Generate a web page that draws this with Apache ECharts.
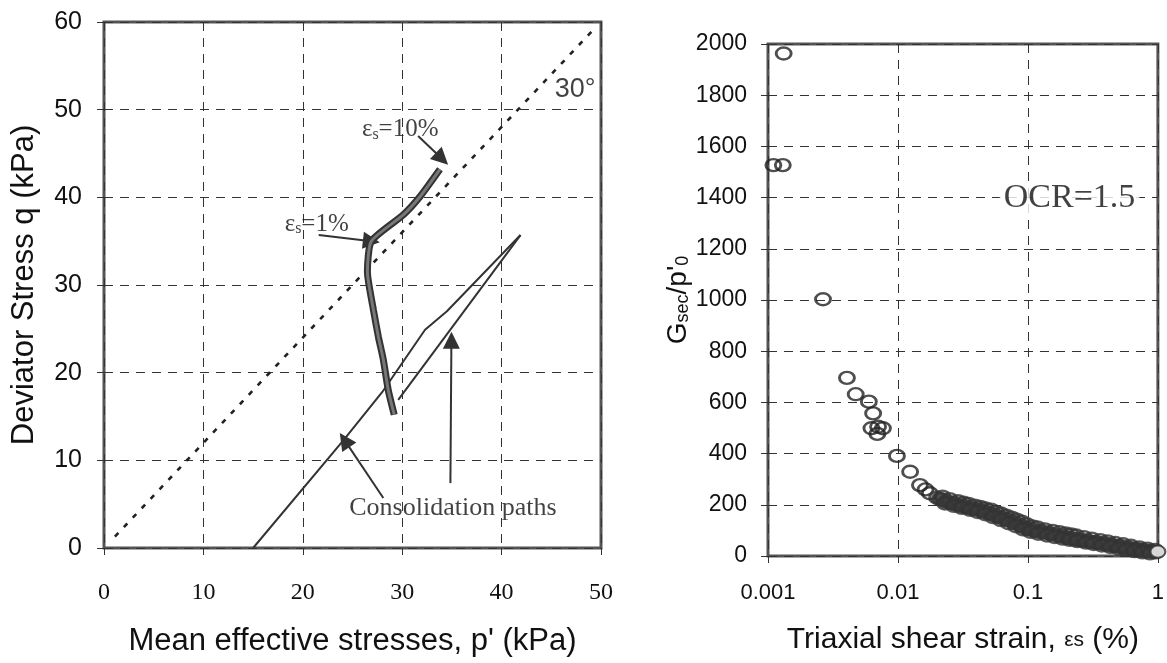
<!DOCTYPE html>
<html><head><meta charset="utf-8">
<script src="https://cdn.jsdelivr.net/npm/echarts@6/dist/echarts.min.js"></script>
<style>html,body{margin:0;padding:0;background:#fff}#c{width:1167px;height:663px}</style>
</head><body><div id="c"></div>
<script>
// ---------- Left panel: q - p' stress paths ----------
const leftXTicks = [0, 10, 20, 30, 40, 50];
const leftYTicks = [0, 10, 20, 30, 40, 50, 60];
const envelope30 = [[1.1, 1.3], [49.3, 59.2]];
const shearPath = [[29.2, 15.2], [28.6, 18.0], [28.1, 21.5], [27.6, 24.1], [27.1, 27.2], [26.5, 31.5], [26.9, 35.0], [30.1, 38.0], [31.8, 40.1], [33.8, 43.2]];
const consolidationPath1 = [[15.0, 0], [24.1, 12.3], [28.0, 17.8], [32.3, 24.9], [34.5, 27.0], [41.9, 35.7]];
const consolidationPath2 = [[29.6, 16.9], [41.9, 35.7]];
const leftArrows = [
  [[31.6, 47.0], [34.0, 44.4]],
  [[21.6, 35.7], [26.9, 35.0]],
  [[28.1, 5.7], [24.2, 12.3]],
  [[34.85, 7.4], [34.95, 23.7]]
];
const leftLabels = [
  {pos: [47.4, 52.3], text: '30°'},
  {pos: [29.8, 47.7], text: '{a|ε}{b|s}{a|=10%}'},
  {pos: [21.4, 36.9], text: '{a|ε}{b|s}{a|=1%}'},
  {pos: [35.1, 4.6], text: '{c|Consolidation paths}'}
];

// ---------- Right panel: Gsec/p'0 vs shear strain ----------
const rightXTickLabels = ['0.001', '0.01', '0.1', '1'];
const rightYTicks = [0, 200, 400, 600, 800, 1000, 1200, 1400, 1600, 1800, 2000];
const strainSmall = [0.00132, 0.0011, 0.0013, 0.00265, 0.00405, 0.00473, 0.00597, 0.00644, 0.00625, 0.00694, 0.00766, 0.00703, 0.00982, 0.0124, 0.01476, 0.0163, 0.0176];
const gsecSmall   = [1963, 1527, 1527, 1003, 696, 632, 603, 557, 499, 477, 499, 505, 391, 329, 277, 260, 245];
// dense band of overlapping measurements (centre line)
const strainBand = [0.020, 0.021, 0.022, 0.023, 0.024, 0.025, 0.026, 0.027, 0.028, 0.030, 0.031, 0.033, 0.034, 0.036, 0.038, 0.040, 0.042, 0.044, 0.046, 0.048, 0.050, 0.053, 0.055, 0.058, 0.061, 0.064, 0.067, 0.070, 0.073, 0.077, 0.080, 0.084, 0.088, 0.093, 0.097, 0.100, 0.105, 0.110, 0.115, 0.120, 0.125, 0.130, 0.140, 0.145, 0.150, 0.160, 0.170, 0.180, 0.190, 0.200, 0.210, 0.220, 0.230, 0.240, 0.250, 0.260, 0.280, 0.290, 0.300, 0.320, 0.330, 0.350, 0.370, 0.390, 0.400, 0.420, 0.440, 0.460, 0.490, 0.510, 0.530, 0.560, 0.580, 0.610, 0.640, 0.670, 0.700, 0.740, 0.770, 0.810, 0.850, 0.890, 0.930, 0.970];
const gsecBand   = [228, 222, 220, 214, 212, 209, 206, 205, 201, 199, 195, 193, 190, 188, 185, 183, 180, 176, 174, 170, 168, 163, 160, 156, 152, 148, 145, 140, 137, 133, 128, 124, 120, 114, 110, 106, 104, 101, 99, 96, 95, 93, 90, 89, 86, 83, 80, 78, 75, 72, 70, 68, 66, 64, 63, 61, 59, 58, 56, 54, 53, 51, 49, 47, 46, 44, 42, 40, 38, 37, 35, 33, 32, 30, 29, 27, 26, 24, 22, 20, 19, 17, 16, 14];
// upper and lower scatter of the same band
const strainBandUpper = [0.022, 0.025, 0.029, 0.032, 0.035, 0.039, 0.043, 0.047, 0.052, 0.057, 0.062, 0.068, 0.075, 0.082, 0.090, 0.098, 0.108, 0.118, 0.135, 0.155, 0.175, 0.195, 0.215, 0.235, 0.27, 0.31, 0.36, 0.41, 0.47, 0.54, 0.62, 0.72, 0.83, 0.95];
const gsecBandUpper   = [232, 222, 214, 208, 203, 197, 192, 186, 181, 172, 166, 158, 150, 142, 134, 124, 116, 112, 104, 98, 93, 88, 84, 80, 74, 68, 62, 57, 51, 46, 40, 34, 29, 24];
const strainBandLower = [0.023, 0.027, 0.031, 0.036, 0.041, 0.047, 0.054, 0.062, 0.071, 0.081, 0.092, 0.105, 0.12, 0.14, 0.16, 0.185, 0.21, 0.24, 0.28, 0.32, 0.37, 0.43, 0.5, 0.57, 0.66, 0.76, 0.87];
const gsecBandLower   = [205, 196, 188, 180, 172, 163, 152, 140, 128, 116, 104, 94, 87, 80, 74, 68, 63, 58, 52, 47, 41, 35, 29, 24, 19, 14, 10];
const lastPoint = [[1.0, 17]];
const ocrLabel = {pos: [0.209, 1398], text: 'OCR=1.5'};

const SANS = 'Liberation Sans, Arial, sans-serif';
const SERIF = 'Liberation Serif, Times New Roman, serif';
const gridDash = {type: [9, 7], color: '#333', width: 1};
const tick = {show: true, length: 7, lineStyle: {color: '#333', width: 1}};

const zip = (a, b) => a.map((v, i) => [v, b[i]]);
const ring = {color: 'rgba(255,255,255,0)', borderColor: '#222', borderWidth: 2.6};
const bandRing = {color: 'rgba(70,70,70,0.35)', borderColor: '#333', borderWidth: 2.6};

const chart = echarts.init(document.getElementById('c'), null, {renderer: 'canvas'});
chart.setOption({
  animation: false,
  backgroundColor: '#fff',
  grid: [
    {left: 104, top: 22, width: 497, height: 526, show: true, borderColor: '#555', borderWidth: 3},
    {left: 768, top: 44, width: 397, height: 512, show: true, borderColor: '#555', borderWidth: 3}
  ],
  xAxis: [
    {gridIndex: 0, type: 'value', min: leftXTicks[0], max: leftXTicks[leftXTicks.length - 1], interval: 10,
     axisLine: {show: false}, axisTick: tick,
     axisLabel: {margin: 33, fontFamily: SERIF, fontSize: 24, color: '#111'},
     splitLine: {show: true, lineStyle: gridDash},
     name: "Mean effective stresses, p' (kPa)", nameLocation: 'middle', nameGap: 78,
     nameTextStyle: {fontFamily: SANS, fontSize: 31, color: '#111'}},
    {gridIndex: 1, type: 'log', logBase: 10, min: 0.001, max: 1,
     axisLine: {show: false}, axisTick: tick, minorTick: {show: false},
     axisLabel: {margin: 26, fontFamily: SANS, fontSize: 22, color: '#111',
       formatter: v => rightXTickLabels[Math.round(Math.log10(v)) + 3]},
     splitLine: {show: true, lineStyle: gridDash},
     name: 'Triaxial shear strain, {e|εs} (%)', nameLocation: 'middle', nameGap: 69,
     nameTextStyle: {fontFamily: SANS, fontSize: 30, color: '#111',
       rich: {e: {fontFamily: SANS, fontSize: 21, color: '#111'}}}}
  ],
  yAxis: [
    {gridIndex: 0, type: 'value', min: leftYTicks[0], max: leftYTicks[leftYTicks.length - 1], interval: 10,
     axisLine: {show: false}, axisTick: tick,
     axisLabel: {margin: 22, fontFamily: SANS, fontSize: 25, color: '#111'},
     splitLine: {show: true, lineStyle: gridDash},
     name: 'Deviator Stress q (kPa)', nameLocation: 'middle', nameGap: 64, nameRotate: 90,
     nameTextStyle: {fontFamily: SANS, fontSize: 31, color: '#111'}},
    {gridIndex: 1, type: 'value', min: rightYTicks[0], max: rightYTicks[rightYTicks.length - 1], interval: 200,
     axisLine: {show: false}, axisTick: tick,
     axisLabel: {margin: 21, fontFamily: SANS, fontSize: 23, color: '#111', formatter: v => String(v)},
     splitLine: {show: true, lineStyle: gridDash},
     name: "{m|G}{s|sec}{m|/p'}{s|0}", nameLocation: 'middle', nameGap: 50, nameRotate: 90,
     nameTextStyle: {fontFamily: SANS, fontSize: 28, color: '#111',
       rich: {m: {fontFamily: SANS, fontSize: 28, color: '#111'},
              s: {fontFamily: SANS, fontSize: 18, color: '#111', verticalAlign: 'bottom'}}}}
  ],
  series: [
    {type: 'line', xAxisIndex: 0, yAxisIndex: 0, data: envelope30, showSymbol: false, silent: true,
     lineStyle: {color: '#222', width: 2.6, type: [5, 8]}},
    {type: 'line', xAxisIndex: 0, yAxisIndex: 0, data: consolidationPath1, showSymbol: false, silent: true,
     lineStyle: {color: '#333', width: 2}},
    {type: 'line', xAxisIndex: 0, yAxisIndex: 0, data: consolidationPath2, showSymbol: false, silent: true,
     lineStyle: {color: '#333', width: 2}},
    {type: 'line', xAxisIndex: 0, yAxisIndex: 0, data: shearPath, showSymbol: false, silent: true, smooth: 0.2,
     lineStyle: {color: '#333', width: 7}},
    {type: 'line', xAxisIndex: 0, yAxisIndex: 0, data: shearPath, showSymbol: false, silent: true, smooth: 0.2,
     lineStyle: {color: '#777', width: 3}},
    {type: 'lines', coordinateSystem: 'cartesian2d', xAxisIndex: 0, yAxisIndex: 0, silent: true,
     symbol: ['none', 'triangle'], symbolSize: 17,
     lineStyle: {color: '#333', width: 2, opacity: 1},
     data: leftArrows.map(c => ({coords: c}))},
    {type: 'scatter', xAxisIndex: 0, yAxisIndex: 0, symbolSize: 0, silent: true,
     data: leftLabels.map(l => ({value: l.pos, label: {formatter: l.text}})),
     label: {show: true, position: 'inside', color: '#111', fontFamily: SANS, fontSize: 27,
       rich: {a: {fontFamily: SERIF, fontSize: 25, color: '#111'},
              b: {fontFamily: SERIF, fontSize: 16, color: '#111', verticalAlign: 'bottom'},
              c: {fontFamily: SERIF, fontSize: 26, color: '#111'}}}},
    {type: 'scatter', xAxisIndex: 1, yAxisIndex: 1, data: zip(strainSmall, gsecSmall), silent: true,
     symbol: 'circle', symbolSize: [15, 12], itemStyle: ring},
    {type: 'scatter', xAxisIndex: 1, yAxisIndex: 1, data: zip(strainBand, gsecBand), silent: true,
     symbol: 'circle', symbolSize: [15, 12], itemStyle: bandRing},
    {type: 'scatter', xAxisIndex: 1, yAxisIndex: 1, data: zip(strainBandUpper, gsecBandUpper), silent: true,
     symbol: 'circle', symbolSize: [15, 12], itemStyle: bandRing},
    {type: 'scatter', xAxisIndex: 1, yAxisIndex: 1, data: zip(strainBandLower, gsecBandLower), silent: true,
     symbol: 'circle', symbolSize: [15, 12], itemStyle: bandRing},
    {type: 'scatter', xAxisIndex: 1, yAxisIndex: 1, data: lastPoint, silent: true, clip: false,
     symbol: 'circle', symbolSize: [15, 12], z: 5,
     itemStyle: {color: '#fff', borderColor: '#333', borderWidth: 2}},
    {type: 'scatter', xAxisIndex: 1, yAxisIndex: 1, symbolSize: 0, silent: true,
     data: [{value: ocrLabel.pos}],
     label: {show: true, position: 'inside', formatter: ocrLabel.text, fontFamily: SERIF, fontSize: 34,
       color: '#111', backgroundColor: '#fff', padding: [0, 4]}}
  ]
});
</script></body></html>
